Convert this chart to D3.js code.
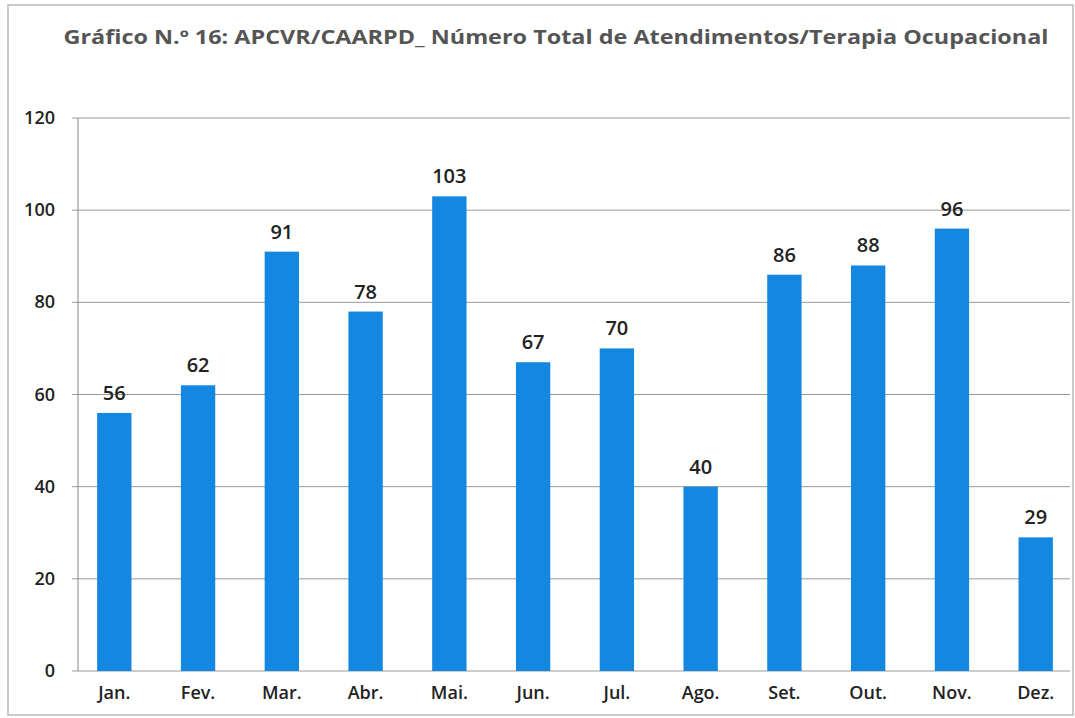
<!DOCTYPE html>
<html lang="pt">
<head>
    <meta charset="UTF-8">
    <script src="https://d3js.org/d3.v7.min.js"></script>
    <style>
        body { margin: 0; background: #fff; font-family: "Open Sans", "Noto Sans", sans-serif; }
        .grid line { stroke: #9a9a9a; stroke-width: 1px; }
        .tick-label { font-size: 18px; fill: #222; font-weight: 600; }
        .bar-label { font-size: 20px; fill: #222; font-weight: 600; }
        .month { font-size: 18px; fill: #222; font-weight: 600; }
    </style>
</head>
<body>
<div id="chart"></div>
<script>
    const meses = ["Jan.", "Fev.", "Mar.", "Abr.", "Mai.", "Jun.", "Jul.", "Ago.", "Set.", "Out.", "Nov.", "Dez."];
    const atendimentos = [56, 62, 91, 78, 103, 67, 70, 40, 86, 88, 96, 29];
    const yTicks = [0, 20, 40, 60, 80, 100, 120];
    const titulo = "Gráfico N.º 16: APCVR/CAARPD_ Número Total de Atendimentos/Terapia Ocupacional";

    const W = 1075, H = 718;
    const svg = d3.select("#chart").append("svg")
        .attr("width", W).attr("height", H);

    // moldura
    svg.append("rect")
        .attr("x", 8).attr("y", 5).attr("width", W - 10).attr("height", H - 8)
        .attr("fill", "none").attr("stroke", "#bbb").attr("stroke-width", 1.5);

    svg.append("text")
        .attr("x", 556).attr("y", 44)
        .attr("text-anchor", "middle")
        .attr("font-size", 19).attr("font-weight", 700)
        .attr("fill", "#555")
        .attr("textLength", 985).attr("lengthAdjust", "spacingAndGlyphs")
        .text(titulo);

    const x = d3.scaleBand()
        .domain(meses)
        .range([72, 1078])
        .paddingInner(0.59)
        .paddingOuter(0.3);

    const y = d3.scaleLinear()
        .domain([0, 120])
        .range([671, 118]);

    const grid = svg.append("g").attr("class", "grid");
    grid.selectAll("line")
        .data(yTicks)
        .enter().append("line")
        .attr("x1", 72).attr("x2", 1070)
        .attr("y1", d => y(d)).attr("y2", d => y(d));

    svg.append("line")
        .attr("x1", 78).attr("x2", 78)
        .attr("y1", y(120)).attr("y2", y(0))
        .attr("stroke", "#888").attr("stroke-width", 1);

    svg.selectAll(".tick-label")
        .data(yTicks)
        .enter().append("text")
        .attr("class", "tick-label")
        .attr("x", 55)
        .attr("y", d => y(d) + 6)
        .attr("text-anchor", "end")
        .text(d => d);

    svg.selectAll(".bar")
        .data(atendimentos)
        .enter().append("rect")
        .attr("class", "bar")
        .attr("x", (d, i) => x(meses[i]))
        .attr("y", d => y(d))
        .attr("width", x.bandwidth())
        .attr("height", d => y(0) - y(d))
        .attr("fill", "#1487e0");

    svg.selectAll(".bar-label")
        .data(atendimentos)
        .enter().append("text")
        .attr("class", "bar-label")
        .attr("x", (d, i) => x(meses[i]) + x.bandwidth() / 2)
        .attr("y", d => y(d) - 13)
        .attr("text-anchor", "middle")
        .text(d => d);

    svg.selectAll(".month")
        .data(meses)
        .enter().append("text")
        .attr("class", "month")
        .attr("x", d => x(d) + x.bandwidth() / 2)
        .attr("y", 699)
        .attr("text-anchor", "middle")
        .text(d => d);
</script>
</body>
</html>
